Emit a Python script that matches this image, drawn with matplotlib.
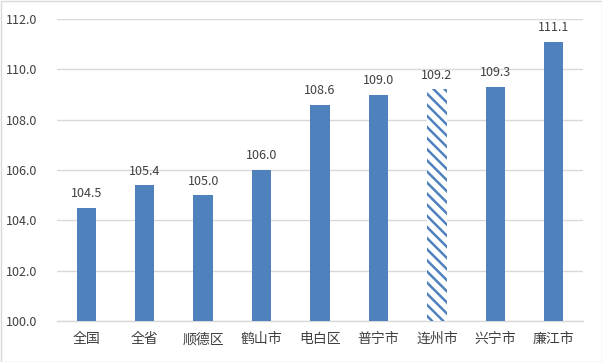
import matplotlib
matplotlib.use("Agg")
import matplotlib.pyplot as plt
from matplotlib.patches import Rectangle

plt.rcParams['font.family'] = ['Noto Sans CJK SC', 'DejaVu Sans']
plt.rcParams['hatch.linewidth'] = 1.8
plt.rcParams['hatch.color'] = '#4F81BD'

categories = ['全国', '全省', '顺德区', '鹤山市', '电白区', '普宁市', '连州市', '兴宁市', '廉江市']
values = [104.5, 105.4, 105.0, 106.0, 108.6, 109.0, 109.2, 109.3, 111.1]
hatched = [False, False, False, False, False, False, True, False, False]
yticks = [100.0, 102.0, 104.0, 106.0, 108.0, 110.0, 112.0]

blue = '#4F81BD'
text_col = '#404040'

fig = plt.figure(figsize=(6.02, 3.62), dpi=100)
ax = fig.add_axes([57/602, 1-321/362, 526/602, 302/362])

x = list(range(len(categories)))
for xi, v, h in zip(x, values, hatched):
    if h:
        ax.bar(xi, v - 100, bottom=100, width=0.33, color='white', edgecolor=blue,
               linewidth=0, hatch='\\\\\\', zorder=3)
    else:
        ax.bar(xi, v - 100, bottom=100, width=0.33, color=blue, linewidth=0, zorder=3)
    ax.text(xi, v + 0.3, f'{v:.1f}', ha='center', va='bottom', fontsize=9, color=text_col)

ax.set_xlim(-0.5, len(categories) - 0.5)
ax.set_ylim(100, 112)
ax.set_yticks(yticks)
ax.set_yticklabels([f'{t:.1f}' for t in yticks], fontsize=9, color=text_col)
ax.set_xticks(x)
ax.set_xticklabels(categories, fontsize=10, color=text_col)
ax.tick_params(axis='both', length=0)
ax.tick_params(axis='y', pad=14)
ax.tick_params(axis='x', pad=8)
ax.grid(axis='y', color='#D9D9D9', linewidth=1, zorder=0)
for s in ['top', 'right', 'left']:
    ax.spines[s].set_visible(False)
ax.spines['bottom'].set_color('#D9D9D9')
ax.spines['bottom'].set_linewidth(1)

fig.patches.append(Rectangle((0.5/602, 0.5/362), 1-1/602, 1-1/362, transform=fig.transFigure,
                             fill=False, edgecolor='#D9D9D9', linewidth=1))

fig.savefig('out.png', dpi=100)
